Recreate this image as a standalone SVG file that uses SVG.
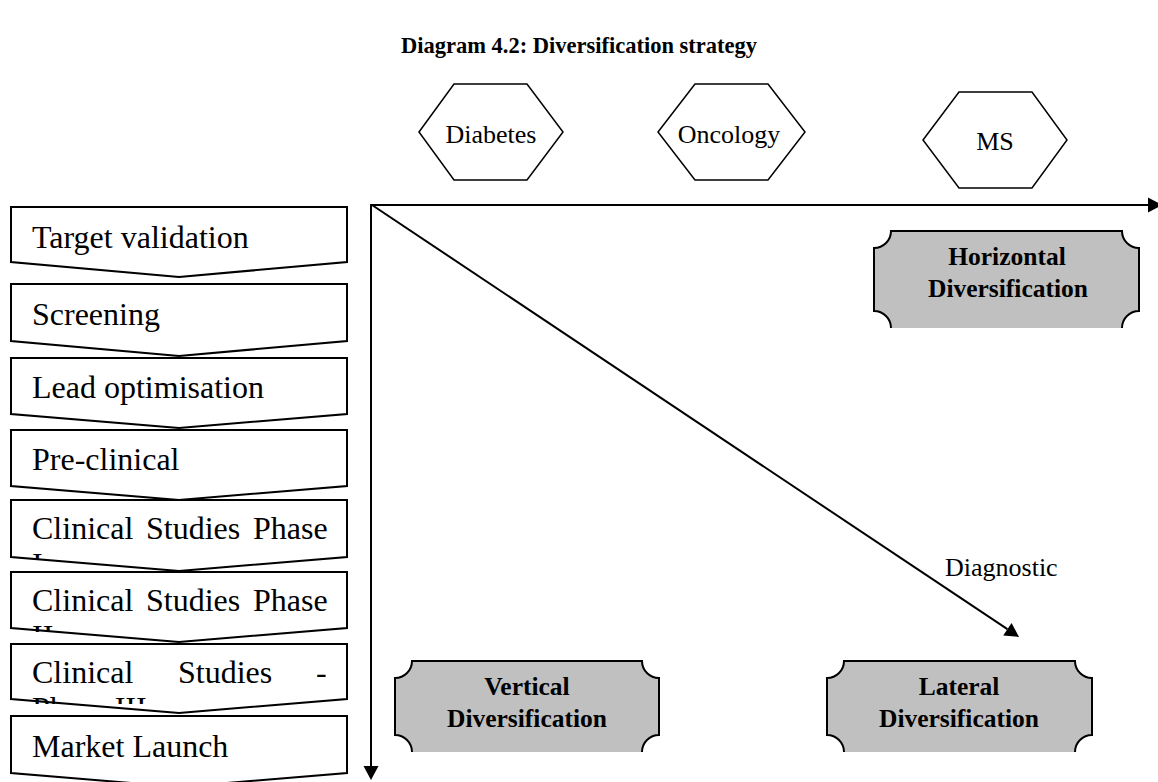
<svg xmlns="http://www.w3.org/2000/svg" width="1158" height="782" viewBox="0 0 1158 782">
  <style>
    .serif { font-family: "Liberation Serif", "Times New Roman", serif; fill: #000; }
    .title { font-size: 22.5px; font-weight: bold; }
    .step { fill: #fff; stroke: #000; stroke-width: 2; stroke-linejoin: miter; }
    .stepText { font-size: 32px; }
    .hex { fill: #fff; stroke: #000; stroke-width: 1.5; }
    .hexText { font-size: 26px; text-anchor: middle; }
    .plaqueFill { fill: #c0c0c0; stroke: none; }
    .plaqueEdge { fill: none; stroke: #000; stroke-width: 2; }
    .plaqueText { font-size: 25.5px; font-weight: bold; text-anchor: middle; }
    .axis { stroke: #000; stroke-width: 2; fill: none; }
    .label { font-size: 26px; }
  </style>
  <defs>
    <marker id="arrow" markerUnits="userSpaceOnUse" markerWidth="14" markerHeight="15" refX="0" refY="7.5" orient="auto" overflow="visible">
      <path d="M0,0 L14,7.5 L0,15 Z" fill="#000"/>
    </marker>
    <!-- text boxes of the clinical steps: overflowing second lines are cut off -->
    <clipPath id="clip5"><rect x="11" y="500" width="336" height="60"/></clipPath>
    <clipPath id="clip6"><rect x="11" y="572" width="336" height="60"/></clipPath>
    <clipPath id="clip7"><rect x="11" y="644" width="336" height="60"/></clipPath>
  </defs>

  <rect width="1158" height="782" fill="#fff"/>

  <text class="serif title" x="579" y="53" text-anchor="middle">Diagram 4.2: Diversification strategy</text>

  <!-- therapeutic areas -->
  <g id="hex-diabetes">
    <polygon class="hex" points="419,132 454,84 527,84 563,132 527,180 454,180"/>
    <text class="serif hexText" x="491" y="143">Diabetes</text>
  </g>
  <g id="hex-oncology">
    <polygon class="hex" points="658,132 695,84 768,84 805,132 768,180 695,180"/>
    <text class="serif hexText" x="729" y="143">Oncology</text>
  </g>
  <g id="hex-ms">
    <polygon class="hex" points="923,140 959,92 1032,92 1067,140 1032,188 959,188"/>
    <text class="serif hexText" x="995" y="150">MS</text>
  </g>

  <!-- pipeline steps -->
  <g id="step-target">
    <path class="step" d="M11,207 H347 V262 L179,277 L11,262 Z"/>
    <text class="serif stepText" x="32" y="248">Target validation</text>
  </g>
  <g id="step-screening">
    <path class="step" d="M11,284 H347 V341 L179,356 L11,341 Z"/>
    <text class="serif stepText" x="32" y="325">Screening</text>
  </g>
  <g id="step-lead">
    <path class="step" d="M11,358 H347 V414 L179,428 L11,414 Z"/>
    <text class="serif stepText" x="32" y="398">Lead optimisation</text>
  </g>
  <g id="step-preclinical">
    <path class="step" d="M11,430 H347 V486 L179,500 L11,486 Z"/>
    <text class="serif stepText" x="32" y="470">Pre-clinical</text>
  </g>
  <g id="step-phase1">
    <path class="step" d="M11,500 H347 V557 L179,571 L11,557 Z"/>
    <g clip-path="url(#clip5)">
      <text class="serif stepText" y="539"><tspan x="32">Clinical</tspan><tspan x="146">Studies</tspan><tspan x="253">Phase</tspan></text>
      <text class="serif stepText" x="32" y="575">I</text>
    </g>
  </g>
  <g id="step-phase2">
    <path class="step" d="M11,572 H347 V628 L179,642 L11,628 Z"/>
    <g clip-path="url(#clip6)">
      <text class="serif stepText" y="611"><tspan x="32">Clinical</tspan><tspan x="146">Studies</tspan><tspan x="253">Phase</tspan></text>
      <text class="serif stepText" x="32" y="647">II</text>
    </g>
  </g>
  <g id="step-phase3">
    <path class="step" d="M11,644 H347 V699 L179,713 L11,699 Z"/>
    <g clip-path="url(#clip7)">
      <text class="serif stepText" y="683"><tspan x="32">Clinical</tspan><tspan x="178">Studies</tspan><tspan x="316">-</tspan></text>
      <text class="serif stepText" x="32" y="719">Phase III</text>
    </g>
  </g>
  <g id="step-launch">
    <path class="step" d="M11,716 H347 V773 L179,787 L11,773 Z"/>
    <text class="serif stepText" x="32" y="757">Market Launch</text>
  </g>

  <!-- strategy plaques (bottom edge left open) -->
  <g id="plaque-horizontal">
    <path class="plaqueFill" d="M891,231 H1122 A17,17 0 0 0 1139,248 V311 A17,17 0 0 0 1122,328 H891 A17,17 0 0 0 874,311 V248 A17,17 0 0 0 891,231 Z"/>
    <path class="plaqueEdge" d="M891,328 A17,17 0 0 0 874,311 V248 A17,17 0 0 0 891,231 H1122 A17,17 0 0 0 1139,248 V311 A17,17 0 0 0 1122,328"/>
    <text class="serif plaqueText" x="1007" y="265">Horizontal</text>
    <text class="serif plaqueText" x="1008" y="297">Diversification</text>
  </g>
  <g id="plaque-vertical">
    <path class="plaqueFill" d="M412,661 H642 A17,17 0 0 0 659,678 V735 A17,17 0 0 0 642,752 H412 A17,17 0 0 0 395,735 V678 A17,17 0 0 0 412,661 Z"/>
    <path class="plaqueEdge" d="M412,752 A17,17 0 0 0 395,735 V678 A17,17 0 0 0 412,661 H642 A17,17 0 0 0 659,678 V735 A17,17 0 0 0 642,752"/>
    <text class="serif plaqueText" x="527" y="695">Vertical</text>
    <text class="serif plaqueText" x="527" y="727">Diversification</text>
  </g>
  <g id="plaque-lateral">
    <path class="plaqueFill" d="M844,661 H1075 A17,17 0 0 0 1092,678 V735 A17,17 0 0 0 1075,752 H844 A17,17 0 0 0 827,735 V678 A17,17 0 0 0 844,661 Z"/>
    <path class="plaqueEdge" d="M844,752 A17,17 0 0 0 827,735 V678 A17,17 0 0 0 844,661 H1075 A17,17 0 0 0 1092,678 V735 A17,17 0 0 0 1075,752"/>
    <text class="serif plaqueText" x="959" y="695">Lateral</text>
    <text class="serif plaqueText" x="959" y="727">Diversification</text>
  </g>

  <!-- axes -->
  <g id="connectors">
    <line class="axis" x1="371" y1="205" x2="1148" y2="205" marker-end="url(#arrow)"/>
    <line class="axis" x1="371" y1="204" x2="371" y2="766" marker-end="url(#arrow)"/>
    <line class="axis" x1="372" y1="205" x2="1007.4" y2="629.2" marker-end="url(#arrow)"/>
    <text class="serif label" x="945" y="576">Diagnostic</text>
  </g>
</svg>
